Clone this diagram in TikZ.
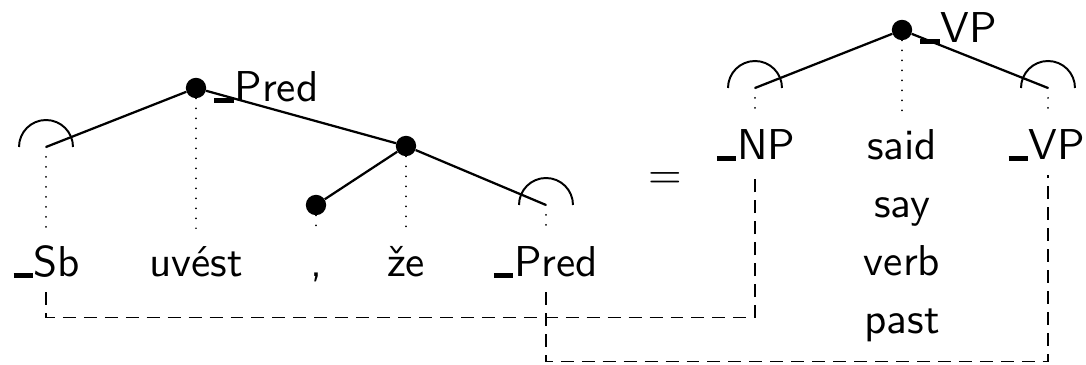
\documentclass[tikz,border=0pt]{standalone}
\usepackage{fontspec}
\usepackage{tikz}
\newfontfamily\wordfont{lmsans10-regular.otf}
\newcommand\us{\rule[-0.02em]{0.45em}{0.12em}\kern0.02em}

\begin{document}
\begin{tikzpicture}[x=0.025cm, y=0.025cm,
  every node/.style={font=\wordfont\fontsize{30.7pt}{36pt}\selectfont, inner sep=0pt},
  bullet/.style={circle, fill=black, minimum size=14.5pt},
  word/.style={anchor=base, inner ysep=10.7pt, text height=19.2pt, text depth=0pt},
  tag/.style={anchor=base west},
  branch/.style={line width=1.6pt},
  hat/.style={line width=1.4pt},
  proj/.style={line width=1.4pt, line cap=round, dash pattern=on 0pt off 7.1pt},
  link/.style={line width=0.9pt, dash pattern=on 9.2pt off 5.7pt}]
\useasboundingbox (0,0) rectangle (1086,365);
% left tree
\node[bullet] (pred) at (196,277) {};
\node[tag] (predlab) at (214,263) {\us Pred};
\coordinate (sb) at (46,218);
\node[bullet] (ze) at (406,219) {};
\node[bullet] (comma) at (316,160) {};
\coordinate (subpred) at (546,160);
\node[word] (wsb) at (47,88) {\us Sb};
\node[word] (wuvest) at (196,88) {uvést};
\node[word] (wcomma) at (316,88) {,};
\node[word] (wze) at (406,88) {že};
\node[word] (wpred) at (546,88) {\us Pred};
\draw[branch] (pred) -- (sb);
\draw[branch] (pred) -- (ze);
\draw[branch] (ze) -- (comma);
\draw[branch] (ze) -- (subpred);
\draw[hat] (sb) ++(27,0) arc[start angle=0, end angle=180, radius=27];
\draw[hat] (subpred) ++(27,0) arc[start angle=0, end angle=180, radius=27];
\draw[proj] (sb) -- (sb |- wsb.north);
\draw[proj] (pred) -- (wuvest);
\draw[proj] (comma) -- (wcomma);
\draw[proj] (ze) -- (wze);
\draw[proj] (subpred) -- (wpred);

\node[anchor=base] (eq) at (665,176) {=};

% right tree
\node[bullet] (vp) at (902,335) {};
\node[tag] (vplab) at (920,322) {\us VP};
\coordinate (np) at (755,277);
\coordinate (subvp) at (1048,277);
\node[word] (wnp) at (756,205) {\us NP};
\node[word] (wsaid) at (902,205) {said};
\node[word] (wsay) at (902,147) {say};
\node[word] (wverb) at (902,89) {verb};
\node[word] (wpast) at (902,31) {past};
\node[word] (wvp) at (1047,205) {\us VP};
\draw[branch] (vp) -- (np);
\draw[branch] (vp) -- (subvp);
\draw[hat] (np) ++(27,0) arc[start angle=0, end angle=180, radius=27];
\draw[hat] (subvp) ++(27,0) arc[start angle=0, end angle=180, radius=27];
\draw[proj] (np) -- (np |- wnp.north);
\draw[proj] (vp) -- (wsaid);
\draw[proj] (subvp) -- (subvp |- wvp.north);

% links between the two trees
\draw[link] (sb |- wsb.south) -- ++(0,-25) -| (np |- wnp.south);
\draw[link] (wpred.south) -- ++(0,-69) -| (subvp |- wvp.south);
\end{tikzpicture}
\end{document}
